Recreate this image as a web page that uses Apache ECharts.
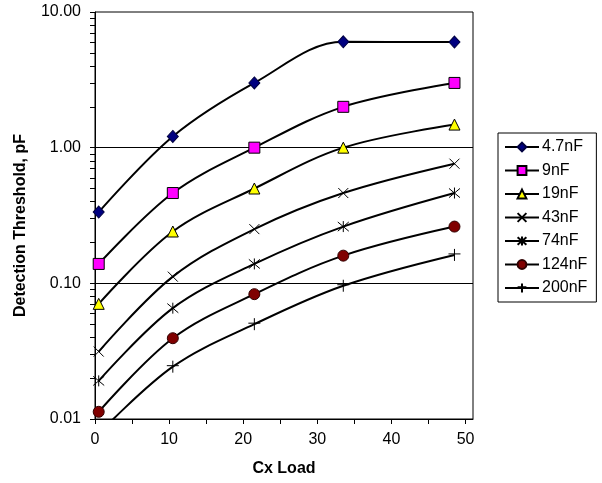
<!DOCTYPE html>
<html>
<head>
<meta charset="utf-8">
<title>Detection Threshold vs Cx Load</title>
<script src="https://cdn.jsdelivr.net/npm/echarts@6.0.0/dist/echarts.min.js"></script>
<style>
    html, body { margin: 0; padding: 0; background: #fff; }
    #myChart { width: 602px; height: 483px; }
</style>
</head>
<body>
<div id="myChart"></div>
<script>
// Cx load (x) for every series
var cxLoad = [0.5, 10.5, 21.5, 33.5, 48.5];
// detection threshold, pF
var c4_7nF = [0.335, 1.21, 3.0, 6.03, 6.0];
var c9nF = [0.139, 0.463, 1.0, 2.0, 3.0];
var c19nF = [0.0706, 0.241, 0.50, 1.0, 1.48];
var c43nF = [0.0314, 0.112, 0.251, 0.463, 0.762];
var c74nF = [0.0191, 0.0656, 0.139, 0.262, 0.463];
var c124nF = [0.0113, 0.0394, 0.0832, 0.160, 0.262];
var c200nF = [0.0078, 0.0243, 0.050, 0.096, 0.162];

var seriesNames = ['4.7nF', '9nF', '19nF', '43nF', '74nF', '124nF', '200nF'];
var seriesData = [c4_7nF, c9nF, c19nF, c43nF, c74nF, c124nF, c200nF];

// axis ticks / labels
var xTicks = [0, 5, 10, 15, 20, 25, 30, 35, 40, 45, 50];
var xLabels = [0, 10, 20, 30, 40, 50];
var yLabels = [0.01, 0.1, 1, 10];
var yTicks = [0.01, 0.02, 0.03, 0.04, 0.05, 0.06, 0.07, 0.08, 0.09,
              0.1, 0.2, 0.3, 0.4, 0.5, 0.6, 0.7, 0.8, 0.9,
              1, 2, 3, 4, 5, 6, 7, 8, 9, 10];
var yGridLines = [1, 0.1];

// marker look for each series
var markers = [
    { symbol: 'diamond', size: [11, 12], color: '#000080', border: '#000040' },
    { symbol: 'rect', size: 11, color: '#ff00ff', border: '#000' },
    { symbol: 'triangle', size: 11, color: '#ffff00', border: '#000' },
    { symbol: 'path://M0,0L10,10M10,0L0,10', size: 10, color: '#000', border: '#000' },
    { symbol: 'path://M0,0L10,10M10,0L0,10M5,-1L5,11', size: 11, color: '#000', border: '#000' },
    { symbol: 'circle', size: 11, color: '#800000', border: '#300000' },
    { symbol: 'path://M0,5L12,5M6,0L6,12', size: 12, color: '#000', border: '#000' }
];

var font = '"Liberation Sans", Arial, sans-serif';

var series = [];
for (var i = 0; i < seriesNames.length; i++) {
    var pts = [];
    for (var j = 0; j < cxLoad.length; j++) {
        pts.push([cxLoad[j], seriesData[i][j]]);
    }
    var s = {
        name: seriesNames[i],
        type: 'line',
        smooth: 0.35,
        clip: true,
        symbol: markers[i].symbol,
        symbolSize: markers[i].size,
        showAllSymbol: true,
        itemStyle: { color: markers[i].color, borderColor: markers[i].border, borderWidth: 1 },
        lineStyle: { color: '#000', width: 2 },
        emphasis: { disabled: true },
        data: pts,
        z: 3
    };
    if (i === 0) {
        // horizontal gridlines at 1.00 and 0.10
        s.markLine = {
            silent: true,
            symbol: 'none',
            label: { show: false },
            lineStyle: { color: '#000', width: 1, type: 'solid' },
            data: yGridLines.map(function (v) { return { yAxis: v }; }),
            z: 1
        };
    }
    series.push(s);
}

var myChart = echarts.init(document.getElementById('myChart'));
myChart.setOption({
    backgroundColor: '#fff',
    animation: false,
    textStyle: { fontFamily: font, color: '#000' },
    grid: {
        left: 95, top: 12, right: 129, bottom: 64,
        show: true, borderColor: '#000', borderWidth: 1, backgroundColor: '#fff'
    },
    legend: {
        orient: 'vertical',
        left: 498, top: 133,
        padding: [6, 9, 6, 6],
        itemWidth: 34, itemHeight: 11, itemGap: 7.5,
        backgroundColor: '#fff', borderColor: '#000', borderWidth: 1,
        textStyle: { fontFamily: font, fontSize: 16, color: '#000', padding: [0, 0, 0, -2] },
        data: seriesNames
    },
    xAxis: {
        type: 'value',
        min: 0, max: 51,
        name: 'Cx Load',
        nameLocation: 'middle',
        nameGap: 42,
        nameTextStyle: { fontFamily: font, fontSize: 16, fontWeight: 'bold', color: '#000' },
        axisLine: { show: true, lineStyle: { color: '#000', width: 1 } },
        axisTick: { show: true, length: 5, lineStyle: { color: '#000' }, customValues: xTicks },
        axisLabel: { customValues: xLabels, margin: 13, fontSize: 16, color: '#000', fontFamily: font },
        splitLine: { show: false }
    },
    yAxis: {
        type: 'log',
        logBase: 10,
        min: 0.01, max: 10,
        name: 'Detection Threshold, pF',
        nameLocation: 'middle',
        nameGap: 66,
        nameTextStyle: { fontFamily: font, fontSize: 16, fontWeight: 'bold', color: '#000', padding: [0, 20, 0, 0] },
        axisLine: { show: true, lineStyle: { color: '#000', width: 1 } },
        axisTick: { show: true, length: 5, lineStyle: { color: '#000' }, customValues: yTicks },
        axisLabel: {
            customValues: yLabels, margin: 14, fontSize: 16, color: '#000', fontFamily: font,
            formatter: function (v) { return Number(v).toFixed(2); }
        },
        splitLine: { show: false }
    },
    series: series
});
</script>
</body>
</html>
